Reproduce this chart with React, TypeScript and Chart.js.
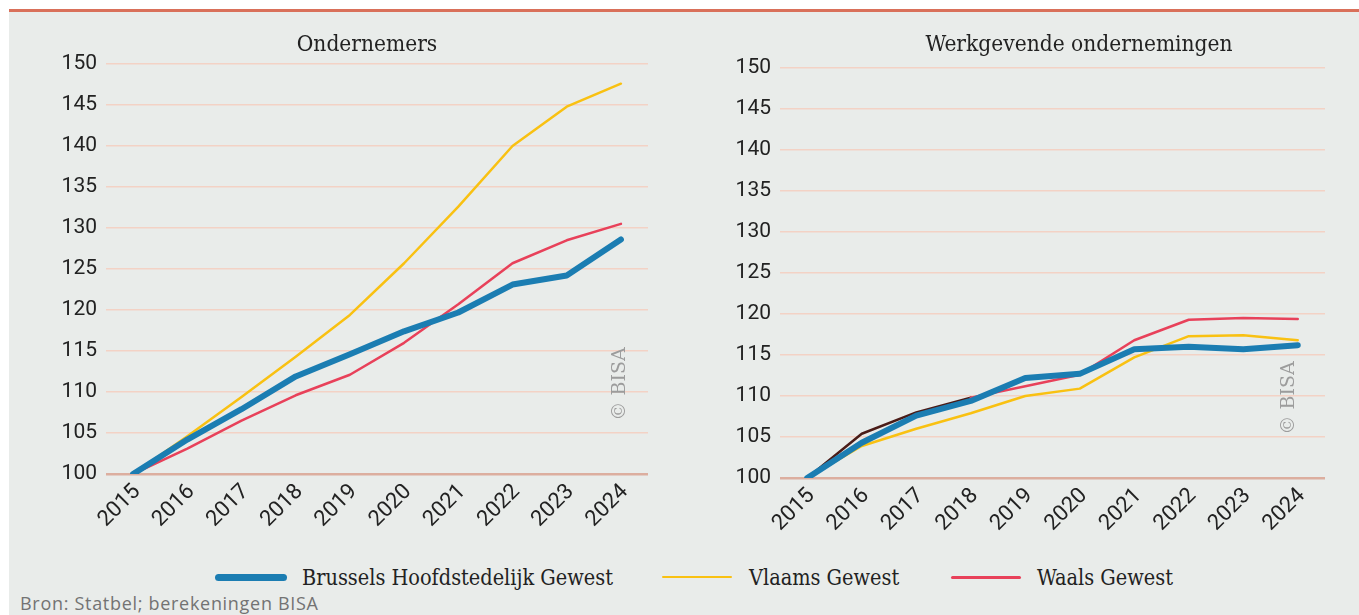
import React, { useEffect, useRef } from 'react';
import { Chart, registerables } from 'chart.js';

Chart.register(...registerables);

// ---- Data ----
const years = ['2015', '2016', '2017', '2018', '2019', '2020', '2021', '2022', '2023', '2024'];

const ondBrussels = [100, 104.2, 107.9, 111.9, 114.6, 117.4, 119.7, 123.1, 124.2, 128.6];
const ondVlaams = [100, 104.6, 109.4, 114.3, 119.4, 125.7, 132.6, 140.0, 144.8, 147.6];
const ondWaals = [100, 103.1, 106.5, 109.6, 112.1, 116.0, 120.7, 125.7, 128.5, 130.5];

const werkBrussels = [100, 104.3, 107.6, 109.4, 112.2, 112.7, 115.7, 116.0, 115.7, 116.2];
const werkVlaams = [100, 103.9, 106.0, 107.9, 110.0, 110.9, 114.7, 117.3, 117.4, 116.8];
const werkWaals = [100, 105.4, 108.0, 109.8, 111.2, 112.6, 116.8, 119.3, 119.5, 119.4];

const seriesNames = ['Brussels Hoofdstedelijk Gewest', 'Vlaams Gewest', 'Waals Gewest'];
const yMin = 100;
const yMax = 150;
const yStep = 5;

// ---- Styles ----
const BLUE = '#1b7db2';
const YELLOW = '#f9c112';
const RED = '#e8415a';
const BROWN = '#4a1c18';
const BG = '#e9ecea';
const TICK_FONT = 'Roboto';
const SERIF = '"DejaVu Serif Condensed", "DejaVu Serif", serif';

const watermarkPlugin = {
  id: 'watermark',
  beforeDatasetsDraw(chart: any, _args: any, opts: any) {
    const { ctx, chartArea } = chart;
    ctx.save();
    ctx.translate(chartArea.right - opts.dx, chartArea.bottom - opts.dy);
    ctx.rotate(-Math.PI / 2);
    ctx.font = '19px "DejaVu Serif"';
    ctx.fillStyle = '#9c9c9c';
    ctx.textAlign = 'center';
    ctx.textBaseline = 'middle';
    ctx.fillText('\u00A9 BISA', 0, 0);
    ctx.restore();
  },
};

type Cfg = {
  brussels: number[];
  vlaams: number[];
  waals: number[];
  width: number;
  height: number;
  yWidth: number;
  xHeight: number;
  padTop: number;
  padRight: number;
  wmDx: number;
  wmDy: number;
  brownSegments: number;
};

function LineChart(props: Cfg) {
  const ref = useRef<HTMLCanvasElement | null>(null);
  useEffect(() => {
    if (!ref.current) return;
    const p = props;
    const chart = new Chart(ref.current, {
      type: 'line',
      data: {
        labels: years,
        datasets: [
          {
            label: seriesNames[0],
            data: p.brussels,
            borderColor: BLUE,
            borderWidth: 6,
            pointRadius: 0,
          },
          {
            label: seriesNames[2],
            data: p.waals,
            borderColor: RED,
            borderWidth: 2.5,
            pointRadius: 0,
            segment: {
              borderColor: (ctx: any) => (ctx.p0DataIndex < p.brownSegments ? BROWN : RED),
            },
          },
          {
            label: seriesNames[1],
            data: p.vlaams,
            borderColor: YELLOW,
            borderWidth: 2.5,
            pointRadius: 0,
          },
        ],
      },
      options: {
        animation: false,
        responsive: false,
        maintainAspectRatio: false,
        layout: { padding: { top: p.padTop, right: p.padRight, left: 0, bottom: 0 } },
        elements: { line: { tension: 0, borderCapStyle: 'round', borderJoinStyle: 'round' } },
        plugins: {
          legend: { display: false },
          tooltip: { enabled: false },
          title: { display: false },
          // @ts-ignore
          watermark: { dx: p.wmDx, dy: p.wmDy },
        },
        scales: {
          x: {
            type: 'category',
            offset: true,
            grid: { display: false, drawTicks: false },
            border: { display: false },
            ticks: {
              maxRotation: 45,
              minRotation: 45,
              color: '#222222',
              font: { family: TICK_FONT, size: 22 },
              padding: 5,
              labelOffset: 4,
            },
            afterFit: (s: any) => {
              s.height = p.xHeight;
            },
          },
          y: {
            min: yMin,
            max: yMax,
            ticks: {
              stepSize: yStep,
              color: '#222222',
              font: { family: TICK_FONT, size: 21 },
              padding: 9,
            },
            grid: {
              drawTicks: false,
              color: (c: any) => (c.tick && c.tick.value === yMin ? '#dcae9f' : '#f3d2c5'),
              lineWidth: (c: any) => (c.tick && c.tick.value === yMin ? 2.5 : 1.5),
            },
            border: { display: false },
            afterFit: (s: any) => {
              s.width = p.yWidth;
            },
          },
        },
      } as any,
      plugins: [watermarkPlugin],
    });
    return () => chart.destroy();
  }, []);
  return <canvas ref={ref} width={props.width} height={props.height} style={{ width: props.width, height: props.height, display: 'block' }} />;
}

const titleStyle: React.CSSProperties = {
  position: 'absolute',
  transform: 'translate(-50%, -50%)',
  fontFamily: SERIF,
  fontSize: 22.5,
  color: '#222',
  whiteSpace: 'nowrap',
};

const legendText: React.CSSProperties = {
  position: 'absolute',
  fontFamily: SERIF,
  fontSize: 21.5,
  color: '#222',
  whiteSpace: 'nowrap',
  transform: 'translateY(-50%)',
};

function LegendLine({ left, width, color, thick }: { left: number; width: number; color: string; thick: number }) {
  return (
    <div
      style={{
        position: 'absolute',
        left,
        top: 565 - thick / 2,
        width,
        height: thick,
        background: color,
        borderRadius: thick / 2,
      }}
    />
  );
}

export default function App() {
  return (
    <div
      style={{
        position: 'absolute',
        left: 9,
        top: 9,
        width: 1350,
        height: 603,
        background: BG,
        borderTop: '3px solid #d9705a',
        overflow: 'hidden',
      }}
    >
      <div style={{ position: 'absolute', left: 0, top: 0 }}>
        <LineChart
          brussels={ondBrussels}
          vlaams={ondVlaams}
          waals={ondWaals}
          width={660}
          height={530}
          yWidth={97}
          xHeight={68}
          padTop={52}
          padRight={21}
          wmDx={28}
          wmDy={90}
          brownSegments={0}
        />
      </div>
      <div style={{ position: 'absolute', left: 671, top: 0 }}>
        <LineChart
          brussels={werkBrussels}
          vlaams={werkVlaams}
          waals={werkWaals}
          width={679}
          height={530}
          yWidth={100}
          xHeight={64}
          padTop={56}
          padRight={34}
          wmDx={36}
          wmDy={80}
          brownSegments={3}
        />
      </div>
      <div style={{ ...titleStyle, left: 358, top: 31 }}>Ondernemers</div>
      <div style={{ ...titleStyle, left: 1070, top: 31 }}>Werkgevende ondernemingen</div>

      <LegendLine left={206} width={72} color={BLUE} thick={7} />
      <div style={{ ...legendText, left: 293, top: 565 }}>{seriesNames[0]}</div>
      <LegendLine left={653} width={70} color={YELLOW} thick={2.5} />
      <div style={{ ...legendText, left: 740, top: 565 }}>{seriesNames[1]}</div>
      <LegendLine left={942} width={70} color={RED} thick={3} />
      <div style={{ ...legendText, left: 1028, top: 565 }}>{seriesNames[2]}</div>

      <div
        style={{
          position: 'absolute',
          left: 11,
          top: 591,
          transform: 'translateY(-50%)',
          fontFamily: '"Open Sans", sans-serif',
          fontSize: 18,
          letterSpacing: 0.7,
          color: '#737373',
          whiteSpace: 'nowrap',
        }}
      >
        Bron: Statbel; berekeningen BISA
      </div>
    </div>
  );
}
